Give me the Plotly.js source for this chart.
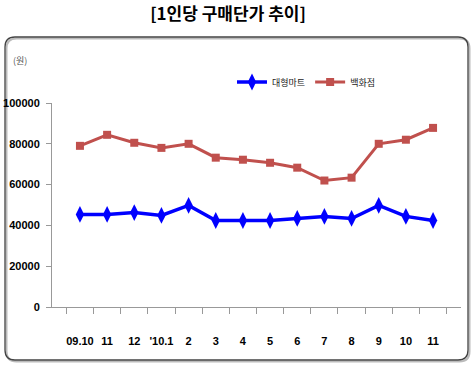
<!DOCTYPE html>
<html>
<head>
<meta charset="utf-8">
<script src="https://cdn.plot.ly/plotly-3.0.1.min.js"></script>
<style>html,body{margin:0;padding:0;background:#fff;}#chart{width:475px;height:366px;}</style>
</head>
<body>
<div id="chart"></div>
<script>
// Data
var categories = ["09.10","09.11","09.12","10.1","10.2","10.3","10.4","10.5","10.6","10.7","10.8","10.9","10.10","10.11"];
var tickLabels = ["09.10","11","12","'10.1","2","3","4","5","6","7","8","9","10","11"];
var martValues = [45400, 45400, 46300, 44900, 49800, 42400, 42400, 42400, 43400, 44400, 43400, 49800, 44400, 42400];
var deptValues = [79000, 84400, 80500, 78000, 80000, 73200, 72200, 70700, 68300, 62000, 63400, 80000, 82000, 87800];
var yTicks = [0, 20000, 40000, 60000, 80000, 100000];

var L = 52, R = 461, T = 103, B = 307;
function px(x){ return (x - L) / (R - L); }
function py(y){ return (B - y) / (B - T); }
function roundRect(x0, y0, x1, y1, r){
  var rx = r / (R - L), ry = r / (B - T);
  var a = px(x0), b = px(x1), t = py(y0), u = py(y1);
  return 'M' + (a + rx) + ',' + t + ' L' + (b - rx) + ',' + t +
    ' Q' + b + ',' + t + ' ' + b + ',' + (t - ry) +
    ' L' + b + ',' + (u + ry) + ' Q' + b + ',' + u + ' ' + (b - rx) + ',' + u +
    ' L' + (a + rx) + ',' + u + ' Q' + a + ',' + u + ' ' + a + ',' + (u + ry) +
    ' L' + a + ',' + (t - ry) + ' Q' + a + ',' + t + ' ' + (a + rx) + ',' + t + ' Z';
}

var tickFont = {family: "'Liberation Sans', Arial, sans-serif", size: 11, color: '#000', weight: 'bold'};

var traces = [
  {
    x: categories, y: martValues, name: '대형마트', type: 'scatter', mode: 'lines+markers',
    line: {color: '#0000FF', width: 3.5},
    marker: {symbol: 'diamond-tall', size: 12, color: '#0000FF'}
  },
  {
    x: categories, y: deptValues, name: '백화점', type: 'scatter', mode: 'lines+markers',
    line: {color: '#C0504D', width: 3},
    marker: {symbol: 'square', size: 8, color: '#C0504D'}
  }
];

var layout = {
  width: 475, height: 366,
  margin: {l: L, r: 475 - R, t: T, b: 366 - B, pad: 0},
  paper_bgcolor: '#fff', plot_bgcolor: '#fff',
  showlegend: true,
  title: {text: '<b>[1인당 구매단가 추이]</b>', x: 228/475, xref: 'container', xanchor: 'center',
          y: 1 - 14/366, yref: 'container', yanchor: 'middle',
          font: {family: "'Noto Sans CJK KR', sans-serif", size: 17, color: '#000'}},
  legend: {orientation: 'h', x: px(232), y: py(82), xanchor: 'left', yanchor: 'middle',
           font: {family: "'Noto Sans CJK KR', sans-serif", size: 9, color: '#222'},
           itemwidth: 30, bgcolor: 'rgba(0,0,0,0)', traceorder: 'normal'},
  xaxis: {
    type: 'category', tickmode: 'array', tickvals: categories, ticktext: tickLabels,
    tickson: 'boundaries', ticks: 'outside', ticklen: 6, tickcolor: '#999', tickangle: 0,
    showline: true, linecolor: '#999', linewidth: 1, showgrid: false, zeroline: false,
    tickfont: tickFont, ticklabelstandoff: 24, fixedrange: true
  },
  yaxis: {
    range: [0, 100000], tickmode: 'array', tickvals: yTicks, tickformat: 'd',
    ticks: 'outside', ticklen: 5, tickcolor: '#999',
    showline: true, linecolor: '#999', linewidth: 1, showgrid: false, zeroline: false,
    tickfont: tickFont, ticklabelstandoff: 4, fixedrange: true
  },
  annotations: [
    {text: '(원)', xref: 'paper', yref: 'paper', x: px(20), y: py(60), xanchor: 'center', yanchor: 'middle',
     showarrow: false, font: {family: "'Noto Sans CJK KR', sans-serif", size: 9, color: '#555'}}
  ],
  shapes: [
    {type: 'path', xref: 'paper', yref: 'paper', path: roundRect(6.5, 38.5, 469.5, 361.5, 10),
     line: {color: '#bbb', width: 2}, layer: 'below'},
    {type: 'path', xref: 'paper', yref: 'paper', path: roundRect(5, 37, 468, 360, 10),
     line: {color: '#444', width: 1.3}, layer: 'below'}
  ]
};

Plotly.newPlot('chart', traces, layout, {displayModeBar: false, staticPlot: true});
</script>
</body>
</html>
